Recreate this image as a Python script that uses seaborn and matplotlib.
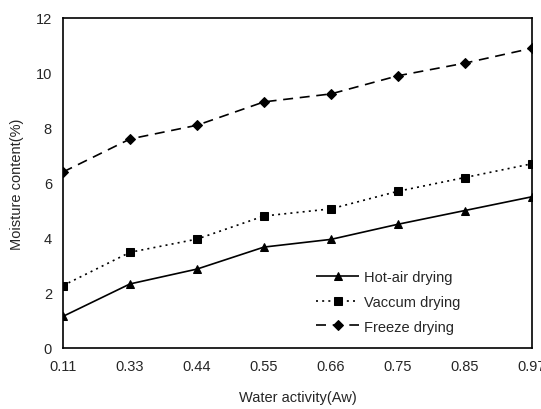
import matplotlib
matplotlib.use("Agg")
import matplotlib.pyplot as plt
import seaborn as sns
import pandas as pd
import numpy as np

aw_labels = ["0.11", "0.33", "0.44", "0.55", "0.66", "0.75", "0.85", "0.97"]
hot_air = [1.15, 2.33, 2.87, 3.67, 3.95, 4.5, 5.0, 5.5]
vaccum = [2.27, 3.48, 3.96, 4.8, 5.06, 5.7, 6.2, 6.7]
freeze = [6.4, 7.6, 8.1, 8.95, 9.24, 9.9, 10.36, 10.9]

series = {"Hot-air drying": hot_air, "Vaccum drying": vaccum, "Freeze drying": freeze}
rows = []
for name, vals in series.items():
    for i, v in enumerate(vals):
        rows.append({"pos": i, "value": v, "method": name})
df = pd.DataFrame(rows)

sns.set_style("white")
plt.rcParams["font.family"] = ["Liberation Sans", "DejaVu Sans"]

fig = plt.figure(figsize=(5.41, 4.10), dpi=100)
ax = fig.add_axes([63/541, 1 - 349/410, (532-63)/541, (349-19)/410])

styles = {"Hot-air drying": ((0, ()), "^", 6),
          "Vaccum drying": ((0, (1.2, 2.5)), "s", 5.5),
          "Freeze drying": ((0, (6, 4)), "D", 5)}
for name in series:
    ls, mk, ms = styles[name]
    sub = df[df["method"] == name]
    sns.lineplot(data=sub, x="pos", y="value", ax=ax, color="black", linestyle=ls,
                 marker=mk, markersize=ms, linewidth=1.2, label=name, markeredgecolor="black")

ax.set_xlim(0, 7)
ax.set_ylim(0, 12)
ax.set_xticks(range(len(aw_labels)))
ax.set_xticklabels(aw_labels)
ax.set_yticks([0, 2, 4, 6, 8, 10, 12])
ax.tick_params(axis="both", labelsize=10.5, length=0, pad=8)
ax.set_xlabel("Water activity(Aw)", fontsize=10.5, labelpad=12)
ax.set_ylabel("Moisture content(%)", fontsize=10.5, labelpad=8)
for s in ax.spines.values():
    s.set_color("black")
    s.set_linewidth(1.2)
leg = ax.legend(loc="lower right", bbox_to_anchor=(0.875, 0.004), frameon=False, fontsize=10.5,
                handlelength=3.0, labelspacing=0.75, handletextpad=0.3)
fig.savefig("out.png", dpi=100)
